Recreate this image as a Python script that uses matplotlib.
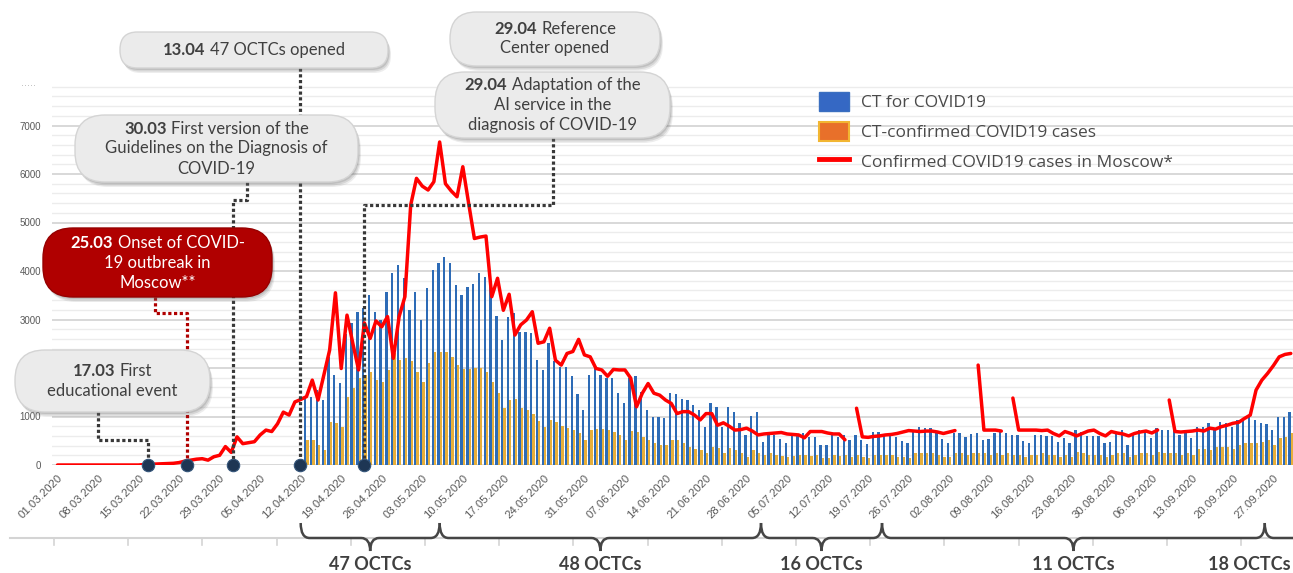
import numpy as np
import pandas as pd
import matplotlib
matplotlib.use("Agg")
import matplotlib.pyplot as plt
from matplotlib import font_manager as fm
from matplotlib.patches import FancyBboxPatch, Patch, PathPatch
from matplotlib.lines import Line2D
from matplotlib.path import Path

nan = np.nan

# day index 0 = 01.03.2020
start_date = "2020-03-01"

# Confirmed COVID-19 cases in Moscow, one value per day (d0 .. d213), gaps = nan
moscow_cases = [
    0, 0, 0, 0, 0, 0, 0, 0, 0, 0,
    0, 0, 0, 0, 0, 10, 15, 20, 25, 30,
    35, 50, 80, 100, 120, 130, 100, 170, 200, 380,
    260, 580, 440, 460, 480, 620, 720, 690, 850, 1090,
    1030, 1300,
    1350, 1410, 1750, 1340, 1850, 2370, 3550, 1990, 3090, 2510,
    1960, 2930, 2610, 2970, 2850, 3060, 2200, 3060, 3470, 5360,
    5910, 5750, 5670, 5840, 6660, 5800, 5650, 5530, 6150, 5400,
    4670, 4700, 4720, 3470, 3850, 3190,
    3520, 2680, 2890, 2990, 3160, 2510, 2540, 2820, 2160, 2060,
    2300, 2340, 2590, 2270, 2230, 1990, 1960, 1830, 1970, 1960,
    1960, 1790, 1200, 1480, 1680, 1480, 1440, 1340, 1270, 1060,
    1100, 1100, 1030,
    930, 1060, 1060, 820, 870, 800, 720, 730, 760, 700,
    620, 640, 650, 660, 670, 640, 630, 620, 560, 690,
    690, 690, 660, 640, 640, 520,
    nan,
    1170, 580, 570, 590, 600, 620, 630, 650, 680, 710,
    700, 690, 700, 700, 680, 650, 680, 710,
    nan, nan, nan,
    2060, 720, 720, 720, 700,
    nan,
    1380, 720, 720, 720, 720, 710, 720, 650, 600, 690,
    650, 600, 650, 700, 720, 650, 600, 690, 660, 640,
    600, 650, 680, 700, 660, 720,
    nan,
    1340, 690, 680, 690, 700, 720, 700, 760, 740, 790,
    820, 860, 880, 960, 1030, 1545, 1750, 1890, 2050, 2230,
    2280, 2300,
]

# CT studies, from 13.04 (d43) to d213
bar_first_day = 43
ct_total = [
    1410, 1400, 1550, 1340, 2230, 1850, 1700, 2710, 2920, 3160,
    3230, 3500, 3160, 2990, 3570, 3950, 4120, 3850, 3200, 3570,
    2990, 3640, 4020, 4170, 4280, 4160, 3710, 3500, 3660, 3730,
    3950, 3880, 3710, 3070,
    2570, 3060, 3130, 2750, 2750, 2730, 2160, 1960, 2510, 2150,
    2030, 2030, 1830, 1470, 1130, 1850, 2030, 1850, 1800, 1800,
    1490, 1270, 1790, 1830, 1510, 1130, 990, 990, 960, 1490,
    1460, 1370, 1340, 1240, 1130,
    790, 1270, 1200, 790, 1200, 1100, 870, 620, 1010, 1100,
    480, 620, 620, 530, 450, 620, 620, 670, 580, 580,
    410, 410, 620, 580, 620, 520, 620, 520, 430, 690,
    690, 620, 620, 580, 500, 450, 690, 780, 760, 760,
    690, 530, 450, 650, 650, 580, 640, 670,
    515, 530, 650, 690, 650, 620, 620, 495, 450, 620,
    620, 600, 600, 480, 550, 450, 720, 690, 600, 600,
    600, 450, 480, 650, 720, 410, 650, 720, 690, 550,
    760, 720, 720, 720, 620, 690, 550, 790, 790, 870,
    720, 890, 860, 790, 930, 960, 980, 930, 870, 850,
    720, 980, 980, 1100,
]
ct_confirmed = [
    515, 515, 410, 310, 890, 860, 790, 1410, 1580, 1790,
    1850, 1920, 1750, 1720, 1960, 2300, 2160, 2200, 2150, 1920,
    1720, 2100, 2340, 2320, 2320, 2230, 2060, 1970, 1970, 1990,
    1990, 1920, 1720, 1480, 1170, 1330,
    1370, 1170, 1130, 1060, 910, 790, 930, 890, 800, 770,
    730, 650, 520, 730, 750, 750, 720, 680, 620, 520,
    710, 680, 580, 520, 450, 410, 410, 520, 520, 450,
    380, 340, 310,
    240, 365, 345, 240, 345, 310, 255, 170, 310, 240,
    205, 240, 205, 185, 170, 185, 205, 205, 185, 205,
    140, 140, 205, 185, 205, 170, 205, 170, 140, 205,
    205, 205, 205, 170, 170, 140, 240, 240, 240, 240,
    205, 170, 160, 240, 240, 205, 240, 240,
    240, 205, 240, 205, 240, 205, 205, 170, 205, 205,
    240, 205, 205, 170, 205, 170, 275, 240, 205, 205,
    205, 170, 205, 240, 240, 170, 205, 240, 240, 205,
    275, 240, 240, 240, 205, 240, 205,
    340, 340, 310, 380, 380, 380, 340, 410, 450, 450,
    450, 480, 515, 410, 550, 580, 650,
]

# dots on the time axis, as drawn (day index)
marker_days = [15.6, 22.4, 30.3, 41.9, 52.9]

octc_labels = ["47 OCTCs", "48 OCTCs", "16 OCTCs", "11 OCTCs", "18 OCTCs"]
octc_bounds = [42, 66, 121.5, 142.4, 208.5, 240]

legend_labels = ["CT for COVID19", "CT-confirmed COVID19 cases",
                 "Confirmed COVID19 cases in Moscow*"]

# fonts
names = {f.name for f in fm.fontManager.ttflist}
narrow = "Liberation Sans Narrow" if "Liberation Sans Narrow" in names else "Liberation Sans"
body = "Lato"

BLUE = "#2D6BB6"
GOLD = "#E7AF3A"
RED = "#FF0000"
GREY_TXT = "#404040"

W, H = 1293, 573
fig = plt.figure(figsize=(W / 100, H / 100), dpi=100)

x0, x1 = -0.95, 213.38
y_top = 7900
ax_l, ax_b, ax_t = 52, 465, 465 - y_top * 48.5 / 1000
ax = fig.add_axes([ax_l / W, (H - ax_b) / H, (W - ax_l) / W, (ax_b - ax_t) / H])
ax.set_xlim(x0, x1)
ax.set_ylim(0, y_top)
for s in ax.spines.values():
    s.set_visible(False)

# pixel overlay for the annotation layer
ov = fig.add_axes([0, 0, 1, 1])
ov.set_xlim(0, W)
ov.set_ylim(H, 0)
ov.axis("off")
ov.patch.set_alpha(0)
P = ov.transData


def px(d):
    return ax_l + (d - x0) / (x1 - x0) * (W - ax_l)


# grid
ax.set_axisbelow(True)
ax.set_yticks(np.arange(0, 8000, 1000))
ax.set_yticks(np.arange(0, 7801, 200), minor=True)
ax.grid(which="major", axis="y", color="#d6d6d6", lw=1.3)
ax.grid(which="minor", axis="y", color="#ececec", lw=1.0)
ax.tick_params(axis="y", which="both", length=0)
ax.tick_params(axis="y", pad=8, labelsize=7, labelcolor="#595959")
for lab in ax.get_yticklabels():
    lab.set_fontfamily(narrow)

# x axis with weekly dates
tick_days = np.arange(0, 211, 7)
tick_labels = pd.date_range(start_date, periods=len(tick_days), freq="7D").strftime("%d.%m.%Y")
ax.set_xticks(tick_days)
ax.set_xticklabels(tick_labels, rotation=45, ha="right", va="top",
                   rotation_mode="anchor", fontsize=8.2, color="#595959", family=narrow)
ax.tick_params(axis="x", length=0, pad=6)

# bars
bar_days = np.arange(bar_first_day, bar_first_day + len(ct_total))
ax.bar(bar_days - 0.2, ct_total, width=0.4, color=BLUE, zorder=2)
ax.bar(bar_days + 0.2, ct_confirmed, width=0.4, color=GOLD, zorder=2)

# red line
days = np.arange(len(moscow_cases))
ax.plot(days, moscow_cases, color=RED, lw=2.5, solid_joinstyle="round",
        solid_capstyle="round", zorder=3)

# dotted connectors (pixel coords, last x from the marker day)
mx = [px(d) for d in marker_days]
dot_style = dict(lw=2.3, ls=(0, (1, 0.8)), transform=P, clip_on=False, zorder=4)
ax.plot([98, 98, mx[0], mx[0]], [412, 440, 440, 465], color="#383838", **dot_style)
ax.plot([155, 155, mx[1], mx[1]], [297, 313, 313, 465], color="#b00000", **dot_style)
ax.plot([247, 247, mx[2], mx[2]], [182, 200, 200, 465], color="#383838", **dot_style)
ax.plot([mx[3], mx[3]], [68, 465], color="#383838", **dot_style)
ax.plot([553, 553, mx[4], mx[4]], [138, 205, 205, 465], color="#383838", **dot_style)

ax.scatter(mx, [465] * len(mx), s=80, color="#1E3654", edgecolor="#34557a",
           lw=0.8, transform=P, clip_on=False, zorder=8)

renderer = fig.canvas.get_renderer()


def note(bx0, by0, bx1, by1, lines, face="#ebebeb", edge="#d4d4d4", color=GREY_TXT,
         size=12, spacing=20):
    r = min(30, (by1 - by0) / 2 - 0.5)
    for off, al in ((5, 0.12), (3.5, 0.18), (2, 0.22)):
        sh = FancyBboxPatch((bx0 + off * 0.6, by0 + off), bx1 - bx0, by1 - by0,
                            boxstyle=f"round,pad=0,rounding_size={r}",
                            fc="#6e6e6e", ec="none", alpha=al,
                            transform=P, clip_on=False, zorder=5)
        ax.add_patch(sh)
    box = FancyBboxPatch((bx0, by0), bx1 - bx0, by1 - by0,
                         boxstyle=f"round,pad=0,rounding_size={r}",
                         fc=face, ec=edge, lw=1.0, transform=P, clip_on=False, zorder=6)
    ax.add_patch(box)
    xc, yc = (bx0 + bx1) / 2, (by0 + by1) / 2
    n = len(lines)
    for i, (bold, rest) in enumerate(lines):
        y = yc + (i - (n - 1) / 2) * spacing
        kw = dict(va="center", ha="left", fontsize=size, family=body, color=color,
                  transform=P, clip_on=False, zorder=7)
        parts = []
        if bold:
            parts.append(ax.text(0, y, bold, fontweight="bold", **kw))
        if rest:
            parts.append(ax.text(0, y, rest, **kw))
        gap = 4.5 if (bold and rest) else 0
        widths = [t.get_window_extent(renderer).width for t in parts]
        x = xc - (sum(widths) + gap) / 2
        for t, w in zip(parts, widths):
            t.set_x(x)
            x += w + gap


note(120, 32, 388, 68, [("13.04", "47 OCTCs opened")])
note(450, 12, 660, 66, [("29.04", "Reference"), ("", "Center opened")], spacing=19)
note(435, 72, 670, 138, [("29.04", "Adaptation of the"), ("", "AI service in the"),
                         ("", "diagnosis of COVID-19")])
note(75, 115, 358, 182, [("30.03", "First version of the"),
                         ("", "Guidelines on the Diagnosis of"), ("", "COVID-19")])
note(43, 228, 272, 297, [("25.03", "Onset of COVID-"), ("", "19 outbreak in"),
                         ("", "Moscow**")], face="#B00000", edge="#960000", color="white")
note(15, 350, 210, 412, [("17.03", "First"), ("", "educational event")])

ax.text(28, 83, ".....", transform=P, ha="center", va="center", fontsize=7,
        color="#b8b8b8", clip_on=False)

# lower band: grey rule with ticks and braces
ax.plot([10, W], [538, 538], color="#d4d4d4", lw=1.5, transform=P, clip_on=False, zorder=1)
for gx in np.arange(54, W, 74.2):
    ax.plot([gx, gx], [538, 545], color="#d4d4d4", lw=1.2, transform=P,
            clip_on=False, zorder=1)


def brace(xa, xb, xc, yt=523, ym=538, yb=551, r=9):
    verts = [(xa, yt), (xa, ym), (xa + r, ym), (xc - r, ym), (xc, ym), (xc, yb),
             (xc, ym), (xc + r, ym), (xb - r, ym), (xb, ym), (xb, yt)]
    codes = [Path.MOVETO, Path.CURVE3, Path.CURVE3, Path.LINETO, Path.CURVE3, Path.CURVE3,
             Path.CURVE3, Path.CURVE3, Path.LINETO, Path.CURVE3, Path.CURVE3]
    ax.add_patch(PathPatch(Path(verts, codes), fc="none", ec="#454545", lw=1.8,
                           transform=P, clip_on=False, zorder=4))


for i, lab in enumerate(octc_labels):
    xa, xb = px(octc_bounds[i]), px(octc_bounds[i + 1])
    xc = (xa + xb) / 2
    brace(xa, xb, xc)
    t = ax.text(xc, 564, lab, ha="center", va="center", fontsize=13, fontweight="bold",
                family=body, color=GREY_TXT, transform=P, clip_on=False, zorder=4)
    w = t.get_window_extent(renderer).width
    if xc + w / 2 > W - 2:
        t.set_ha("right")
        t.set_x(W - 2)

# legend
handles = [Patch(fc="#3568C4", ec="#3a6fc0"),
           Patch(fc="#E8702A", ec="#F2B632", lw=1.5),
           Line2D([], [], color=RED, lw=3.5)]
fig.legend(handles, legend_labels, loc="upper left",
           bbox_to_anchor=(803 / W, 1 - 76 / H), frameon=False,
           prop={"family": "Open Sans", "size": 12.5}, labelcolor="#4a4a4a",
           handlelength=1.75, handleheight=1.3, labelspacing=0.62, handletextpad=0.7)

fig.savefig("out.png", dpi=100)
